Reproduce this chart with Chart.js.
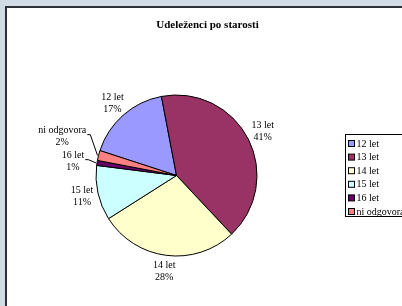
<!DOCTYPE html>
<html>
<head>
<meta charset="utf-8">
<script src="https://cdn.jsdelivr.net/npm/chart.js@4.4.0/dist/chart.umd.min.js"></script>
<style>
  html, body { margin: 0; padding: 0; width: 402px; height: 306px; overflow: hidden; background: #d1dce5; }
  .frame { position: absolute; left: 5px; top: 6px; width: 420px; height: 320px; background: #fff;
           border-left: 2px solid #2c3237; border-top: 2px solid #2c3237; }
  #pie { position: absolute; left: 0; top: 0; }
</style>
</head>
<body>
<div class="frame"><canvas id="pie" width="395" height="298"></canvas></div>
<script>
// podatki
const categories = ['12 let', '13 let', '14 let', '15 let', '16 let', 'ni odgovora'];
const percents = [17, 41, 28, 11, 1, 2];
const colors = ['#9999ff', '#993366', '#ffffcc', '#ccffff', '#660066', '#ff8080'];
const chartTitle = 'Udeleženci po starosti';

const FONT = '"Liberation Serif", "Times New Roman", serif';

// naslov
const titlePlugin = {
    id: 'excelTitle',
    afterDraw(chart) {
        const ctx = chart.ctx;
        ctx.save();
        ctx.font = 'bold 11px ' + FONT;
        ctx.fillStyle = '#000';
        ctx.textAlign = 'center';
        ctx.textBaseline = 'middle';
        ctx.fillText(chartTitle, 200.5, 17.5);
        ctx.restore();
    }
};

// oznake z odstotki
const labelPlugin = {
    id: 'sliceLabels',
    afterDatasetsDraw(chart) {
        const ctx = chart.ctx;
        const meta = chart.getDatasetMeta(0);
        const total = percents.reduce((a, b) => a + b, 0);
        ctx.save();
        ctx.font = '10px ' + FONT;
        ctx.fillStyle = '#000';
        ctx.strokeStyle = '#000';
        ctx.lineWidth = 1;
        ctx.textAlign = 'center';
        ctx.textBaseline = 'middle';
        const placed = [];
        meta.data.forEach((arc, i) => {
            const p = arc.getProps(['x', 'y', 'startAngle', 'endAngle', 'outerRadius'], true);
            const mid = (p.startAngle + p.endAngle) / 2;
            const small = percents[i] / total < 0.05;
            const d = p.outerRadius + (small ? 24 : 16);
            let x = p.x + Math.cos(mid) * d;
            let y = p.y + Math.sin(mid) * d + (small ? 2 : 0);
            const line1 = categories[i];
            const line2 = Math.round(percents[i] / total * 100) + '%';
            const w = Math.max(ctx.measureText(line1).width, ctx.measureText(line2).width);
            const half = w / 2;
            if (half > 11) x += Math.sign(x - p.x) * (half - 11);
            const h = 25;
            // odmakni navzgor ob prekrivanju
            placed.forEach(b => {
                if (Math.abs(b.x - x) < (b.w + w) / 2 && Math.abs(b.y - y) < h) {
                    y = b.y - h;
                }
            });
            placed.push({x, y, w});
            ctx.fillText(line1, x, y - 6);
            ctx.fillText(line2, x, y + 6);
            if (small) {
                const ex = p.x + Math.cos(mid) * p.outerRadius;
                const ey = p.y + Math.sin(mid) * p.outerRadius;
                const sx = x + half + 1;
                const sy = y - 2;
                ctx.beginPath();
                ctx.moveTo(sx, sy + 0.5);
                ctx.lineTo(sx + 3, sy + 0.5);
                ctx.lineTo(ex - 1, ey);
                ctx.stroke();
            }
        });
        ctx.restore();
    }
};

// legenda
const legendPlugin = {
    id: 'excelLegend',
    afterDraw(chart) {
        const ctx = chart.ctx;
        const left = 338.5, top = 126.5, step = 13.6;
        ctx.save();
        ctx.strokeStyle = '#000';
        ctx.lineWidth = 1;
        ctx.strokeRect(left, top, 80, 82);
        ctx.font = '10px ' + FONT;
        ctx.textBaseline = 'middle';
        categories.forEach((c, i) => {
            const cy = top + 9 + i * step;
            ctx.fillStyle = colors[i];
            ctx.fillRect(left + 3, cy - 3, 6, 6);
            ctx.strokeRect(left + 3, cy - 3, 6, 6);
            ctx.fillStyle = '#000';
            ctx.fillText(c, left + 11, cy + 0.5);
        });
        ctx.restore();
    }
};

new Chart(document.getElementById('pie'), {
    type: 'pie',
    data: {
        labels: categories,
        datasets: [{
            data: percents,
            backgroundColor: colors,
            borderColor: '#000',
            borderWidth: 1
        }]
    },
    options: {
        responsive: false,
        animation: false,
        rotation: -72,
        layout: { padding: { left: 88.5, top: 86.5, right: 144.5, bottom: 49.5 } },
        plugins: {
            legend: { display: false },
            title: { display: false },
            tooltip: { enabled: false }
        }
    },
    plugins: [titlePlugin, labelPlugin, legendPlugin]
});
</script>
</body>
</html>
